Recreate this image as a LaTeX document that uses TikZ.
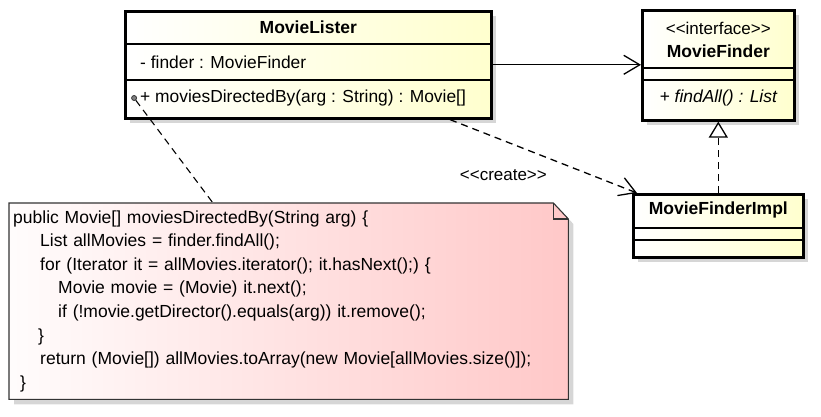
\documentclass[tikz,border=0pt]{standalone}
\usepackage{fontspec}
\setmainfont{Liberation Sans}
\usepackage{xcolor}
\usepackage{tikz}
\usetikzlibrary{arrows.meta,positioning,shadows,backgrounds}

\definecolor{classfill}{RGB}{255,255,206}
\definecolor{notefill}{RGB}{255,200,200}
\definecolor{shadowgray}{RGB}{214,214,214}

\begin{document}
\begin{tikzpicture}[x=1pt, y=-1pt,
			classbox/.style={rectangle, draw, line width=2.6pt, left color=white, right color=classfill,
					inner sep=0pt, anchor=north west,
					drop shadow={shadow xshift=5pt, shadow yshift=-5pt, fill=shadowgray, opacity=1}},
			sep/.style={line width=1.3pt},
			classname/.style={font=\fontsize{17.5}{19}\selectfont\bfseries, inner sep=0pt},
			member/.style={font=\fontsize{17.4}{19}\selectfont, inner sep=0pt},
			stereo/.style={font=\fontsize{17}{19}\selectfont, inner sep=0pt},
			notebox/.style={draw=black!80, line width=1.1pt, left color=white!95!notefill, right color=notefill,
					drop shadow={shadow xshift=5pt, shadow yshift=-5pt, fill=shadowgray, opacity=1}},
			assoc/.style={-{Straight Barb[length=16pt, width=19pt, line width=1.3pt]}, line width=1.3pt},
			depend/.style={-{Straight Barb[length=16pt, width=19pt, line width=1.3pt]}, line width=1.3pt,
					dash pattern=on 7pt off 5pt},
			realize/.style={-{Triangle[open, length=16pt, width=19pt, line width=1.3pt]}, line width=1.3pt,
					dash pattern=on 7pt off 5pt},
			notelink/.style={line width=1.1pt, dash pattern=on 7pt off 5pt}
		]
		\useasboundingbox (0,0) rectangle (821,416);

		% MovieLister
		\node[classbox, minimum width=366pt, minimum height=107pt] (lister) at (124,10) {};
		\draw[sep] ([yshift=-34pt]lister.north west) -- ([yshift=-34pt]lister.north east);
		\draw[sep] ([yshift=-70pt]lister.north west) -- ([yshift=-70pt]lister.north east);
		\node[classname] (listerName) at ([yshift=-17pt]lister.north) {MovieLister};
		\node[member, anchor=west] (listerAttr) at ([xshift=16pt, yshift=-52pt]lister.north west) {- finder : MovieFinder};
		\node[member, anchor=west] (listerOp) at ([xshift=16pt, yshift=-88pt]lister.north west) {+ moviesDirectedBy(arg : String) : Movie[]};
		\node[circle, draw=black!80, fill=black!50, line width=0.8pt, inner sep=0pt, minimum size=5pt,
			left=3pt of listerOp] (opDot) {};

		% MovieFinder interface
		\node[classbox, minimum width=152pt, minimum height=110pt] (finder) at (641,9) {};
		\draw[sep] ([yshift=-59pt]finder.north west) -- ([yshift=-59pt]finder.north east);
		\draw[sep] ([yshift=-71pt]finder.north west) -- ([yshift=-71pt]finder.north east);
		\node[stereo] (finderStereo) at ([yshift=-19pt]finder.north) {{<}{<}interface{>}{>}};
		\node[classname] (finderName) at ([yshift=-42pt]finder.north) {MovieFinder};
		\node[member, font=\fontsize{17.4}{19}\selectfont\itshape] (finderOp) at ([yshift=-89pt]finder.north) {+ findAll() : List};

		% MovieFinderImpl
		\node[classbox, minimum width=170pt, minimum height=63pt] (impl) at (632,193) {};
		\draw[sep] ([yshift=-35pt]impl.north west) -- ([yshift=-35pt]impl.north east);
		\draw[sep] ([yshift=-47pt]impl.north west) -- ([yshift=-47pt]impl.north east);
		\node[classname] (implName) at ([yshift=-17pt]impl.north) {MovieFinderImpl};

		% note with the method body
		\node[anchor=north west, text width=551pt, inner xsep=4pt, inner ysep=0pt, minimum height=196pt,
			align=left, font=\fontsize{17.5}{23.6}\selectfont] (note) at (9,203)
			{public Movie[] moviesDirectedBy(String arg) \{\\
			\hspace*{27pt}List allMovies = finder.findAll();\\
			\hspace*{27pt}for (Iterator it = allMovies.iterator(); it.hasNext();) \{\\
			\hspace*{45pt}Movie movie = (Movie) it.next();\\
			\hspace*{45pt}if (!movie.getDirector().equals(arg)) it.remove();\\
			\hspace*{25pt}\}\\
			\hspace*{27pt}return (Movie[]) allMovies.toArray(new Movie[allMovies.size()]);\\
			\hspace*{7pt}\}};
		\begin{scope}[on background layer]
			\draw[notebox] (note.north west) -- ([xshift=-15pt]note.north east) -- ([yshift=-16pt]note.north east)
				-- (note.south east) -- (note.south west) -- cycle;
			\draw[line width=1.1pt, draw=black!80] ([xshift=-15pt]note.north east) |- ([yshift=-16pt]note.north east);
		\end{scope}

		% Connections
		\draw[assoc] (lister.east) -- (lister.east -| finder.west);
		\draw[realize] (impl.north) -- (finder.south);
		\draw[depend] ([xshift=326pt]lister.south west) -- node[stereo, below left=13pt and -4pt]{{<}{<}create{>}{>}} ([xshift=5pt]impl.north west);
		\draw[notelink] (opDot) -- ([xshift=204pt]note.north west);
	\end{tikzpicture}
\end{document}
